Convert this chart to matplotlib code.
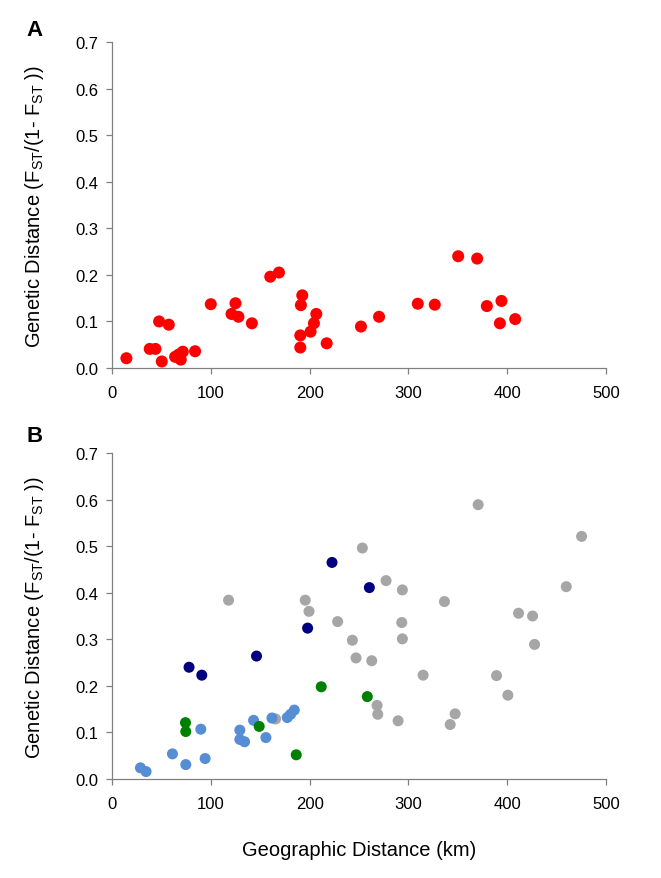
import matplotlib
matplotlib.use('Agg')
import matplotlib.pyplot as plt

plt.rcParams['font.family'] = ['Liberation Sans', 'DejaVu Sans']

# panel A
a_km = [14.6, 38.2, 44, 47.7, 57.5, 50.4, 63.9, 67.6, 69.6, 71.7, 84.1, 100, 121, 125, 128,
        141.6, 160.2, 169, 192.6, 191.2, 190.6, 190.6, 206.8, 204.4, 201, 217.3, 252, 270.3,
        309.5, 326.7, 350.4, 369.6, 379.4, 394.2, 392.6, 408.1]
a_gd = [0.021, 0.041, 0.041, 0.100, 0.093, 0.014, 0.024, 0.029, 0.018, 0.035, 0.036, 0.137, 0.116,
        0.139, 0.110, 0.096, 0.196, 0.205, 0.156, 0.135, 0.070, 0.044, 0.116, 0.096, 0.078, 0.053,
        0.089, 0.110, 0.138, 0.136, 0.240, 0.235, 0.133, 0.144, 0.096, 0.105]

# panel B, four groups
gray_km = [118, 165.6, 195.6, 199.4, 228.4, 243.3, 247, 253.4, 262.9, 268.3, 269, 277.4, 289.6,
           293.3, 293.9, 293.9, 314.9, 336.5, 342.3, 347.3, 370.6, 389.2, 400.7, 411.5, 425.7,
           427.7, 459.8, 475.3]
gray_gd = [0.384, 0.129, 0.384, 0.360, 0.338, 0.298, 0.260, 0.496, 0.254, 0.158, 0.139, 0.426, 0.125,
           0.336, 0.406, 0.301, 0.223, 0.381, 0.117, 0.140, 0.589, 0.222, 0.180, 0.356, 0.350,
           0.289, 0.413, 0.521]
blue_km = [28.8, 34.5, 61.2, 74.7, 89.9, 94.3, 129.4, 129.4, 134.2, 143.3, 155.8, 161.9, 177.4,
           180.8, 184.5]
blue_gd = [0.024, 0.016, 0.054, 0.031, 0.107, 0.044, 0.105, 0.085, 0.080, 0.126, 0.089, 0.131,
           0.132, 0.139, 0.148]
green_km = [74.4, 74.7, 149, 186.5, 211.8, 258.4]
green_gd = [0.121, 0.102, 0.113, 0.052, 0.198, 0.177]
navy_km = [78, 90.9, 146.3, 198, 222.7, 260.5]
navy_gd = [0.240, 0.223, 0.264, 0.324, 0.465, 0.411]

ylab = 'Genetic Distance (F$_{\\mathregular{ST}}$/(1- F$_{\\mathregular{ST}}$ ))'
xticks = [0, 100, 200, 300, 400, 500]
yticks = [0.0, 0.1, 0.2, 0.3, 0.4, 0.5, 0.6, 0.7]

fig = plt.figure(figsize=(6.61, 8.79), dpi=100)
axA = fig.add_axes([0.1694, 0.5802, 0.7474, 0.3709])
axB = fig.add_axes([0.1694, 0.1126, 0.7474, 0.3709])

axA.scatter(a_km, a_gd, s=75, color='#ff0000', edgecolors='none', zorder=3)

axB.scatter(gray_km, gray_gd, s=63, color='#a6a6a6', edgecolors='none', zorder=3)
axB.scatter(blue_km, blue_gd, s=63, color='#558ed5', edgecolors='none', zorder=3)
axB.scatter(green_km, green_gd, s=63, color='#008000', edgecolors='none', zorder=3)
axB.scatter(navy_km, navy_gd, s=63, color='#000080', edgecolors='none', zorder=3)

for ax in (axA, axB):
    ax.set_xlim(0, 500)
    ax.set_ylim(0, 0.7)
    ax.set_xticks(xticks)
    ax.set_yticks(yticks)
    ax.set_yticklabels(['%.1f' % v for v in yticks])
    ax.spines['top'].set_visible(False)
    ax.spines['right'].set_visible(False)
    for s in ('left', 'bottom'):
        ax.spines[s].set_color('#808080')
        ax.spines[s].set_linewidth(0.9)
    ax.tick_params(direction='out', length=4, width=0.9, color='#808080',
                   labelsize=12, labelcolor='black')
    ax.tick_params(axis='x', pad=8)
    ax.tick_params(axis='y', pad=6)
    ax.set_ylabel(ylab, fontsize=14.5, va='center')
    ax.yaxis.set_label_coords(-0.156, 0.5)

axB.set_xlabel('Geographic Distance (km)', fontsize=14.5, va='center')
axB.xaxis.set_label_coords(0.5, -0.215)

fig.text(34.5 / 661, 1 - 30 / 879, 'A', fontsize=16, fontweight='bold', ha='center', va='center')
fig.text(35 / 661, 1 - 437 / 879, 'B', fontsize=16, fontweight='bold', ha='center', va='center')

fig.savefig('out.png', dpi=100)
